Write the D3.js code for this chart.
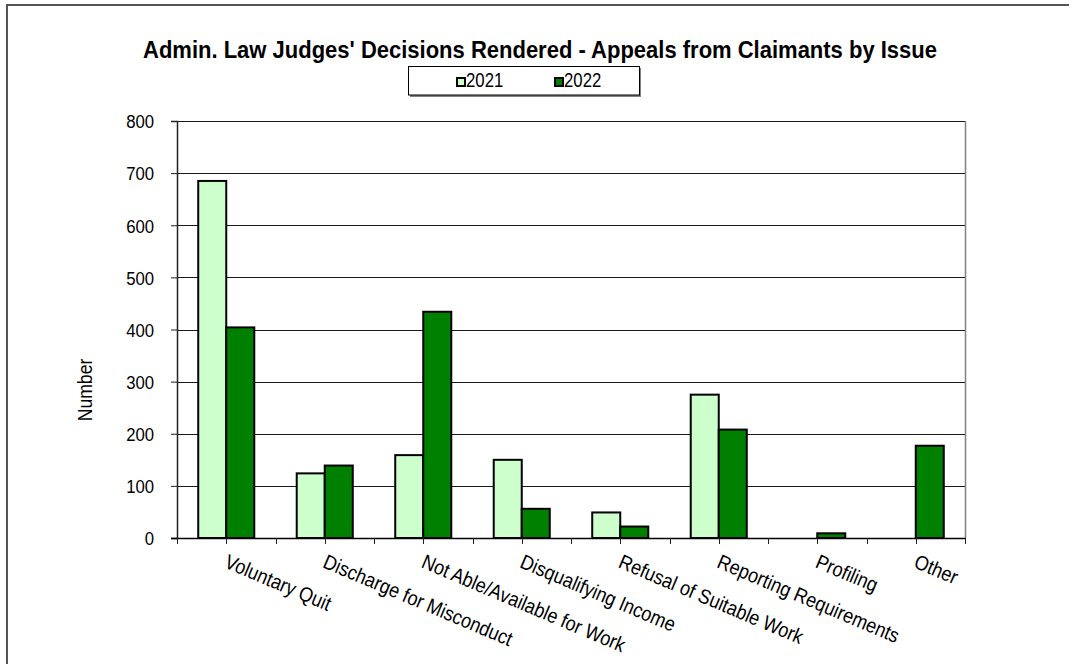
<!DOCTYPE html>
<html>
<head>
<meta charset="utf-8">
<script src="https://cdn.jsdelivr.net/npm/d3@7"></script>
<style>
  html, body { margin: 0; padding: 0; background: #fff; }
  svg { display: block; font-family: "Liberation Sans", Arial, sans-serif; }
</style>
</head>
<body>
<svg id="chart" width="1069" height="664"></svg>
<script>
const title = "Admin. Law Judges' Decisions Rendered - Appeals from Claimants by Issue";
const categories = ["Voluntary Quit", "Discharge for Misconduct", "Not Able/Available for Work",
  "Disqualifying Income", "Refusal of Suitable Work", "Reporting Requirements", "Profiling", "Other"];
const seriesNames = ["2021", "2022"];
const values2021 = [685, 124, 159, 150, 49, 275, 0, 0];
const values2022 = [404, 139, 434, 56, 22, 208, 9, 177];
const yTicks = [0, 100, 200, 300, 400, 500, 600, 700, 800];
const yLabel = "Number";

const colors = { "2021": "#CCFFCC", "2022": "#008000" };

const svg = d3.select("#chart");
const plot = { left: 177, right: 965, top: 121, bottom: 538 };

// outer frame
svg.append("rect").attr("x", 7).attr("y", 5).attr("width", 1200).attr("height", 800)
  .attr("fill", "none").attr("stroke", "#555").attr("stroke-width", 2);

const x0 = d3.scaleBand().domain(categories).range([plot.left, plot.right])
  .paddingInner(0.431).paddingOuter(0.2155);
const x1 = d3.scaleBand().domain(seriesNames).range([0, x0.bandwidth()]);
const y = d3.scaleLinear().domain([0, 800]).range([plot.bottom, plot.top]);

// gridlines
svg.append("g").selectAll("line").data(yTicks).join("line")
  .attr("x1", plot.left).attr("x2", plot.right)
  .attr("y1", d => Math.round(y(d)) + 0.5).attr("y2", d => Math.round(y(d)) + 0.5)
  .attr("stroke", "#1a1a1a").attr("stroke-width", 1);

// right border of plot
svg.append("line").attr("x1", plot.right + 0.5).attr("x2", plot.right + 0.5)
  .attr("y1", plot.top).attr("y2", plot.bottom)
  .attr("stroke", "#808080").attr("stroke-width", 1.5);

// y axis
const yAxis = d3.axisLeft(y).tickValues(yTicks).tickSize(6).tickPadding(0).tickFormat(d3.format("d"));
const gy = svg.append("g").attr("transform", `translate(${plot.left},0)`).call(yAxis);
gy.select(".domain").attr("stroke", "#222").attr("stroke-width", 1.5);
gy.selectAll(".tick line").attr("stroke", "#222");
gy.selectAll(".tick text").remove();
gy.selectAll(".tick").append("text")
  .attr("transform", `translate(-23,0) scale(0.88,1)`)
  .attr("text-anchor", "end").attr("dy", "0.36em")
  .attr("fill", "#000").attr("font-size", 19).attr("font-family", "Liberation Sans, Arial, sans-serif")
  .text(d => d);

// bars
const data = categories.map((c, i) => ({ cat: c, vals: [
  { key: "2021", value: values2021[i] }, { key: "2022", value: values2022[i] }] }));
const groups = svg.append("g").selectAll("g").data(data).join("g")
  .attr("transform", d => `translate(${x0(d.cat)},0)`);
groups.selectAll("rect").data(d => d.vals.filter(v => v.value > 0)).join("rect")
  .attr("x", d => x1(d.key)).attr("width", x1.bandwidth())
  .attr("y", d => y(d.value)).attr("height", d => y(0) - y(d.value))
  .attr("fill", d => colors[d.key]).attr("stroke", "#000").attr("stroke-width", 2);

// x axis
svg.append("line")
  .attr("x1", plot.left - 6).attr("x2", plot.right + 1)
  .attr("y1", plot.bottom + 0.5).attr("y2", plot.bottom + 0.5)
  .attr("stroke", "#000").attr("stroke-width", 1.5);
const step = x0.step();
const tickPos = [];
for (let i = 0; i <= categories.length; i++) tickPos.push(plot.left + i * step);
categories.forEach(c => tickPos.push(x0(c) + x0.bandwidth() / 2));
svg.append("g").selectAll("line").data(tickPos).join("line")
  .attr("x1", d => Math.round(d) + 0.5).attr("x2", d => Math.round(d) + 0.5)
  .attr("y1", plot.bottom).attr("y2", plot.bottom + 6)
  .attr("stroke", "#222").attr("stroke-width", 1);

// x labels (rotated)
svg.append("g").selectAll("text").data(categories).join("text")
  .attr("transform", d => `translate(${x0(d) + x0.bandwidth() / 2 - 3},${plot.bottom + 29}) rotate(23) scale(0.88,1)`)
  .attr("text-anchor", "start").attr("font-size", 20.5).attr("fill", "#000")
  .text(d => d);

// y label
svg.append("text")
  .attr("transform", `translate(92,390) rotate(-90) scale(0.88,1)`)
  .attr("text-anchor", "middle").attr("font-size", 20).attr("fill", "#000")
  .text(yLabel);

// title
svg.append("text").attr("x", 540).attr("y", 58).attr("text-anchor", "middle")
  .attr("font-size", 23).attr("font-weight", "bold").attr("fill", "#000")
  .attr("textLength", 794).attr("lengthAdjust", "spacingAndGlyphs")
  .text(title);

// legend
const lg = svg.append("g");
lg.append("rect").attr("x", 410).attr("y", 68).attr("width", 231).attr("height", 29).attr("fill", "#808080");
lg.append("rect").attr("x", 408.5).attr("y", 66.5).attr("width", 231).attr("height", 28.5)
  .attr("fill", "#fff").attr("stroke", "#000").attr("stroke-width", 1);
const legendX = { "2021": 456, "2022": 554 };
seriesNames.forEach(k => {
  lg.append("rect").attr("x", legendX[k] + 1).attr("y", 78).attr("width", 8).attr("height", 8)
    .attr("fill", colors[k]).attr("stroke", "#000").attr("stroke-width", 2);
  lg.append("text").attr("transform", `translate(${legendX[k] + 10},87) scale(0.86,1)`)
    .attr("font-size", 19.5).attr("fill", "#000").text(k);
});
</script>
</body>
</html>
